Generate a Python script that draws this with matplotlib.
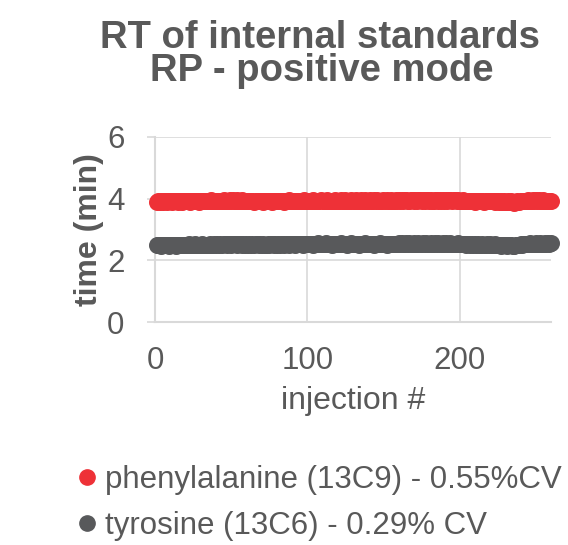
import matplotlib.pyplot as plt
from matplotlib.lines import Line2D

plt.rcParams['font.family'] = ['Liberation Sans', 'DejaVu Sans']

# injection number (1..260)
injection = list(range(1, 261))

# retention times (min)
phe_rt = [
    3.90, 3.91, 3.89, 3.92, 3.90, 3.91, 3.93, 3.90, 3.92, 3.91, 3.89, 3.92, 3.91, 3.93, 3.90, 3.92, 3.91, 3.90, 3.92, 3.93,
    3.91, 3.92, 3.90, 3.93, 3.92, 3.91, 3.94, 3.92, 3.90, 3.93, 3.91, 3.92, 3.94, 3.93, 3.91, 3.92, 3.95, 3.93, 3.92, 3.94,
    3.93, 3.91, 3.94, 3.92, 3.95, 3.93, 3.92, 3.94, 3.96, 3.93, 3.95, 3.94, 3.92, 3.96, 3.94, 3.93, 3.95, 3.92, 3.94, 3.93,
    3.91, 3.93, 3.92, 3.94, 3.90, 3.92, 3.93, 3.91, 3.94, 3.92, 3.90, 3.93, 3.92, 3.91, 3.94, 3.92, 3.90, 3.93, 3.91, 3.92,
    3.93, 3.91, 3.94, 3.92, 3.90, 3.93, 3.92, 3.95, 3.93, 3.91, 3.94, 3.92, 3.93, 3.91, 3.94, 3.93, 3.92, 3.95, 3.93, 3.92,
    3.94, 3.92, 3.93, 3.95, 3.92, 3.94, 3.93, 3.91, 3.95, 3.93, 3.92, 3.94, 3.96, 3.93, 3.92, 3.94, 3.93, 3.95, 3.92, 3.94,
    3.93, 3.95, 3.92, 3.94, 3.96, 3.93, 3.94, 3.92, 3.95, 3.93, 3.94, 3.96, 3.93, 3.92, 3.95, 3.94, 3.93, 3.96, 3.94, 3.93,
    3.95, 3.93, 3.94, 3.96, 3.92, 3.95, 3.93, 3.94, 3.92, 3.95, 3.93, 3.96, 3.94, 3.93, 3.95, 3.92, 3.94, 3.96, 3.93, 3.95,
    3.94, 3.96, 3.93, 3.95, 3.97, 3.94, 3.93, 3.96, 3.95, 3.93, 3.97, 3.94, 3.96, 3.95, 3.93, 3.96, 3.94, 3.97, 3.95, 3.94,
    3.96, 3.94, 3.93, 3.95, 3.97, 3.94, 3.96, 3.93, 3.95, 3.94, 3.96, 3.93, 3.95, 3.97, 3.94, 3.96, 3.95, 3.93, 3.96, 3.94,
    3.93, 3.95, 3.92, 3.94, 3.93, 3.91, 3.94, 3.92, 3.93, 3.90, 3.92, 3.94, 3.91, 3.93, 3.92, 3.90, 3.93, 3.91, 3.92, 3.94,
    3.91, 3.92, 3.90, 3.93, 3.91, 3.89, 3.92, 3.90, 3.91, 3.88, 3.90, 3.92, 3.89, 3.91, 3.88, 3.87, 3.89, 3.91, 3.90, 3.92,
    3.91, 3.93, 3.92, 3.94, 3.95, 3.93, 3.92, 3.95, 3.94, 3.96, 3.93, 3.95, 3.94, 3.92, 3.95, 3.93, 3.94, 3.92, 3.93, 3.92,
]
tyr_rt = [
    2.50, 2.49, 2.51, 2.48, 2.50, 2.49, 2.51, 2.50, 2.48, 2.50, 2.49, 2.51, 2.50, 2.48, 2.50, 2.49, 2.51, 2.50, 2.49, 2.51,
    2.50, 2.52, 2.49, 2.51, 2.50, 2.52, 2.50, 2.49, 2.51, 2.50, 2.52, 2.51, 2.49, 2.51, 2.50, 2.52, 2.51, 2.50, 2.52, 2.51,
    2.52, 2.50, 2.53, 2.51, 2.52, 2.54, 2.51, 2.53, 2.52, 2.50, 2.53, 2.52, 2.54, 2.51, 2.53, 2.52, 2.50, 2.53, 2.51, 2.52,
    2.51, 2.53, 2.50, 2.52, 2.51, 2.53, 2.52, 2.50, 2.52, 2.51, 2.53, 2.51, 2.50, 2.52, 2.51, 2.53, 2.52, 2.50, 2.52, 2.51,
    2.53, 2.51, 2.52, 2.54, 2.51, 2.53, 2.52, 2.50, 2.53, 2.52, 2.54, 2.51, 2.53, 2.52, 2.54, 2.53, 2.51, 2.53, 2.52, 2.54,
    2.52, 2.54, 2.53, 2.51, 2.54, 2.52, 2.55, 2.53, 2.52, 2.54, 2.53, 2.55, 2.52, 2.54, 2.53, 2.51, 2.54, 2.53, 2.52, 2.54,
    2.53, 2.55, 2.52, 2.54, 2.53, 2.51, 2.54, 2.52, 2.55, 2.53, 2.52, 2.54, 2.53, 2.51, 2.54, 2.52, 2.53, 2.55, 2.52, 2.53,
    2.54, 2.52, 2.53, 2.51, 2.54, 2.52, 2.53, 2.55, 2.52, 2.54, 2.53, 2.51, 2.53, 2.52, 2.54, 2.53, 2.52, 2.54, 2.53, 2.55,
    2.53, 2.55, 2.54, 2.52, 2.55, 2.53, 2.56, 2.54, 2.53, 2.55, 2.54, 2.52, 2.55, 2.53, 2.54, 2.56, 2.53, 2.55, 2.54, 2.53,
    2.55, 2.53, 2.54, 2.56, 2.53, 2.55, 2.54, 2.52, 2.55, 2.53, 2.56, 2.54, 2.53, 2.55, 2.54, 2.52, 2.54, 2.53, 2.55, 2.54,
    2.53, 2.52, 2.54, 2.51, 2.53, 2.52, 2.50, 2.53, 2.51, 2.52, 2.50, 2.52, 2.51, 2.49, 2.52, 2.50, 2.51, 2.53, 2.50, 2.52,
    2.51, 2.50, 2.52, 2.49, 2.51, 2.50, 2.48, 2.51, 2.49, 2.50, 2.48, 2.50, 2.49, 2.51, 2.48, 2.47, 2.49, 2.51, 2.50, 2.52,
    2.51, 2.53, 2.52, 2.54, 2.53, 2.55, 2.52, 2.54, 2.53, 2.55, 2.54, 2.52, 2.55, 2.53, 2.54, 2.56, 2.53, 2.55, 2.54, 2.55,
]

labels = ["phenylalanine (13C9) - 0.55%CV", "tyrosine (13C6) - 0.29% CV"]
colors = ["#EE3137", "#58595B"]
x_ticks = [0, 100, 200]
y_ticks = [0, 2, 4, 6]

txt = "#595959"
grid_c = "#D9D9D9"

fig = plt.figure(figsize=(5.68, 5.45), dpi=100)
ax = fig.add_axes([155 / 568, 1 - 322 / 545, 396 / 568, 185 / 545])

ax.scatter(injection, phe_rt, s=150, color=colors[0], linewidths=0, clip_on=False, zorder=3)
ax.scatter(injection, tyr_rt, s=150, color=colors[1], linewidths=0, clip_on=False, zorder=3)

ax.set_xlim(0, 260)
ax.set_ylim(0, 6)
ax.set_xticks(x_ticks)
ax.set_yticks(y_ticks)
ax.grid(True, color=grid_c, linewidth=1.2)
ax.set_axisbelow(True)
for side in ["top", "right"]:
    ax.spines[side].set_visible(False)
for side in ["left", "bottom"]:
    ax.spines[side].set_color(grid_c)
    ax.spines[side].set_linewidth(1.5)

ax.tick_params(axis="y", length=6, width=1.2, color=grid_c, pad=16, labelsize=22.5, labelcolor=txt)
ax.tick_params(axis="x", length=0, pad=17, labelsize=22.5, labelcolor=txt)

ax.set_xlabel("injection #", fontsize=23, color=txt)
ax.xaxis.set_label_coords(0.5, -0.345)
ax.set_ylabel("time (min)", fontsize=23, fontweight="bold", color=txt)
ax.yaxis.set_label_coords(-0.13, 0.5)

fig.text(0.563, 1 - 48 / 545, "RT of internal standards", ha="center", va="baseline",
         fontsize=27.5, fontweight="bold", color=txt)
fig.text(0.567, 1 - 81 / 545, "RP - positive mode", ha="center", va="baseline",
         fontsize=27.5, fontweight="bold", color=txt)

handles = [Line2D([], [], linestyle="none", marker="o", markersize=11, color=c) for c in colors]
fig.legend(handles, labels, loc="upper left", bbox_to_anchor=(78 / 568, 1 - 465 / 545),
           frameon=False, fontsize=22.5, labelcolor=txt, handlelength=0.6,
           handletextpad=0.25, labelspacing=0.5, borderaxespad=0, borderpad=0)

fig.savefig("out.png", dpi=100)
